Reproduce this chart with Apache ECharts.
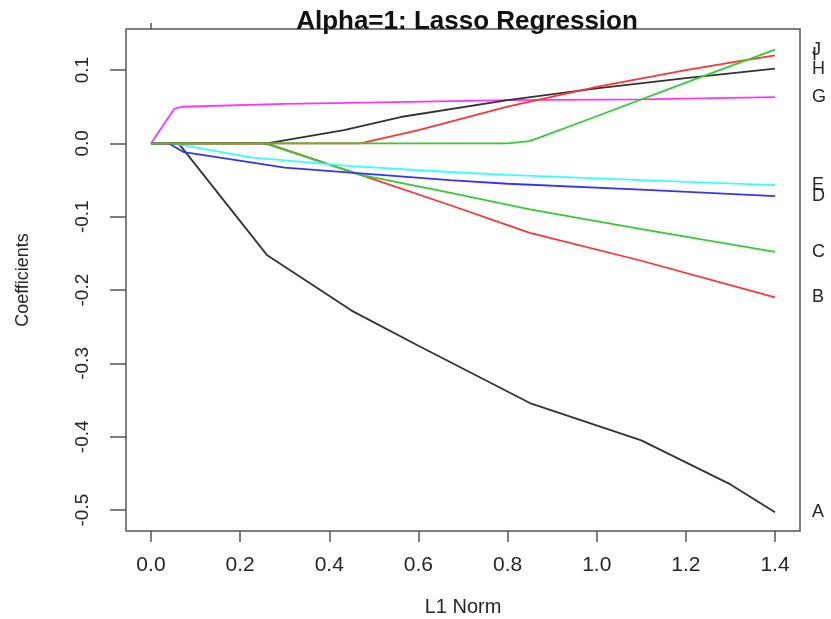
<!DOCTYPE html>
<html>
<head>
<meta charset="utf-8">
<title>Alpha=1: Lasso Regression</title>
<script src="https://cdn.jsdelivr.net/npm/echarts@6/dist/echarts.min.js"></script>
<style>
  html, body { margin: 0; padding: 0; background: #fff; }
  #chart { width: 831px; height: 619px; }
</style>
</head>
<body>
<div id="chart"></div>
<script>
// Lasso coefficient paths: [L1 norm, coefficient] for each variable
const coefA = [[0, 0], [0.062, 0], [0.26, -0.152], [0.45, -0.228], [0.6, -0.276], [0.85, -0.354], [1.1, -0.405], [1.3, -0.465], [1.4, -0.503]];
const coefB = [[0, 0], [0.26, 0], [0.47, -0.043], [0.67, -0.084], [0.85, -0.122], [1.1, -0.16], [1.4, -0.21]];
const coefC = [[0, 0], [0.255, 0], [0.47, -0.043], [0.67, -0.067], [0.85, -0.09], [1.1, -0.117], [1.4, -0.148]];
const coefD = [[0, 0], [0.04, 0], [0.074, -0.012], [0.224, -0.026], [0.3, -0.033], [0.67, -0.05], [0.8, -0.055], [1.1, -0.063], [1.4, -0.072]];
const coefE = [[0, 0], [0.05, 0], [0.224, -0.019], [0.45, -0.031], [0.67, -0.039], [0.8, -0.043], [1.1, -0.05], [1.4, -0.057]];
const coefG = [[0, 0], [0.052, 0.047], [0.07, 0.05], [0.3, 0.054], [0.515, 0.056], [0.8, 0.059], [1.1, 0.06], [1.4, 0.063]];
const coefH = [[0, 0], [0.26, 0], [0.433, 0.018], [0.56, 0.036], [0.8, 0.059], [1.0, 0.075], [1.2, 0.089], [1.4, 0.102]];
const coefI = [[0, 0], [0.47, 0], [0.6, 0.018], [0.8, 0.05], [1.0, 0.077], [1.2, 0.1], [1.3, 0.11], [1.4, 0.12]];
const coefJ = [[0, 0], [0.8, 0], [0.85, 0.003], [1.0, 0.037], [1.2, 0.083], [1.4, 0.128]];

const pathNames = ['A', 'B', 'C', 'D', 'E', 'G', 'H', 'I', 'J'];
const pathData = [coefA, coefB, coefC, coefD, coefE, coefG, coefH, coefI, coefJ];
const pathColors = ['#333333', '#ff3333', '#33cc33', '#3333ff', '#33ffff', '#ff33ff', '#333333', '#ff3333', '#33cc33'];

const xTicks = [0, 0.2, 0.4, 0.6, 0.8, 1.0, 1.2, 1.4];
const yTicks = [-0.5, -0.4, -0.3, -0.2, -0.1, 0, 0.1];

const fmt = v => {
  const s = Number(v).toFixed(1);
  return s === '-0.0' ? '0.0' : s;
};

const chart = echarts.init(document.getElementById('chart'), null, { renderer: 'canvas' });

const textColor = '#262626';
const font = 'Liberation Sans, Arial, Helvetica, sans-serif';

chart.setOption({
  animation: false,
  backgroundColor: '#ffffff',
  title: {
    text: 'Alpha=1: Lasso Regression',
    left: 462,
    textAlign: 'center',
    top: 4,
    textStyle: { fontFamily: font, fontSize: 26, fontWeight: 'bold', color: '#111' }
  },
  grid: {
    left: 126, right: 31, top: 29, bottom: 88,
    show: true, borderColor: '#555', borderWidth: 1.5,
    outerBoundsMode: 'none', containLabel: false
  },
  xAxis: [{
    type: 'value',
    min: -0.056, max: 1.456,
    name: 'L1 Norm',
    nameLocation: 'middle',
    nameGap: 66,
    nameTextStyle: { fontFamily: font, fontSize: 20, color: textColor },
    axisLine: { show: false, onZero: false },
    splitLine: { show: false },
    axisTick: { show: true, customValues: xTicks, length: 11, lineStyle: { color: '#555', width: 1.5 } },
    axisLabel: {
      customValues: xTicks, formatter: fmt, margin: 24,
      fontFamily: font, fontSize: 21, color: textColor
    }
  }, {
    type: 'value',
    position: 'top',
    min: -0.056, max: 1.456,
    axisLine: { show: false, onZero: false },
    splitLine: { show: false },
    axisTick: { show: true, customValues: [0], length: 6, lineStyle: { color: '#555', width: 1.5 } },
    axisLabel: { show: false }
  }],
  yAxis: {
    type: 'value',
    min: -0.5285, max: 0.156,
    name: 'Coefficients',
    nameLocation: 'middle',
    nameRotate: 90,
    nameGap: 94,
    nameTextStyle: { fontFamily: font, fontSize: 18, color: textColor },
    axisLine: { show: false, onZero: false },
    splitLine: { show: false },
    axisTick: { show: true, customValues: yTicks, length: 16, lineStyle: { color: '#555', width: 1.5 } },
    axisLabel: {
      customValues: yTicks, formatter: fmt, rotate: 90, margin: 34,
      fontFamily: font, fontSize: 19, color: textColor
    }
  },
  series: pathNames.map((n, i) => ({
    name: n,
    type: 'line',
    data: pathData[i],
    showSymbol: false,
    symbol: 'none',
    lineStyle: { color: pathColors[i], width: 1.8 },
    emphasis: { disabled: true },
    endLabel: {
      show: true,
      formatter: n,
      distance: 37,
      fontFamily: font,
      fontSize: 18,
      color: textColor
    }
  }))
});
</script>
</body>
</html>
